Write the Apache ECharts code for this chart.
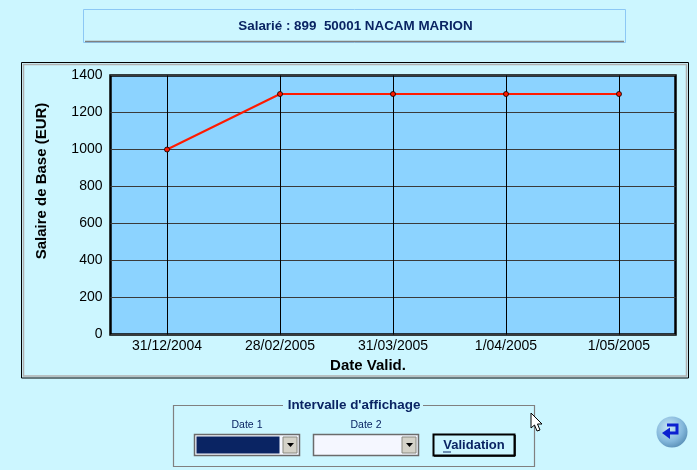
<!DOCTYPE html>
<html><head><meta charset="utf-8">
<style>html,body{margin:0;padding:0;background:#ccf6ff}#c{width:697px;height:470px}</style>
<script src="https://cdn.jsdelivr.net/npm/echarts@6/dist/echarts.min.js"></script>
</head><body><div id="c"></div>
<script>
const categories = ['31/12/2004','28/02/2005','31/03/2005','1/04/2005','1/05/2005'];
const salaire = [1000,1300,1300,1300,1300];
const yTicks = {min:0,max:1400,interval:200};
const titre = 'Salarié : 899  50001 NACAM MARION';
const navy = '#0a2463';
const font = '"Liberation Sans", Arial, sans-serif';
const rect=(x,y,w,h,fill,stroke,lw,z)=>({type:'rect',shape:{x,y,width:w,height:h},style:{fill:fill||'none',stroke:stroke||'none',lineWidth:lw||1},z:z||0,silent:true});
const line=(x1,y1,x2,y2,c,lw,z)=>({type:'line',shape:{x1,y1,x2,y2},style:{stroke:c,lineWidth:lw||1},z:z||1,silent:true});
const text=(x,y,t,size,weight,c,align,z)=>({type:'text',x,y,style:{text:t,fill:c||navy,font:`${weight||'normal'} ${size}px ${font}`,textAlign:align||'center',textVerticalAlign:'middle'},z:z||3,silent:true});
const combo=(x,w,fill)=>[
  rect(x+.5,434.5,w,21,'#f5f7ff','#6b6b6b',1.5,2),
  rect(x+2.5,436.5,w-22,17,fill,null,1,2),
  rect(x+w-16,437,14,16,'#d4d2c8','#8a8a80',1,3),
  {type:'polygon',shape:{points:[[x+w-12,443],[x+w-5,443],[x+w-8.5,447]]},style:{fill:'#000'},z:4,silent:true}
];
const graphic=[
  rect(83.5,9.5,542,33,'#ccf6ff','#8cc8f5',1,0),
  line(85,41.5,624,41.5,'#808080',1.5),
  text(355.5,26.5,titre,13.4,'bold',navy),
  rect(21.5,62.5,667,315.5,'#ccf6ff','#000',1,0),
  rect(23.5,64.5,663,311.5,'none','#b0b0b0',1.5,1),
  rect(173.5,405.5,361,61,'none','#808080',1.2,1),
  rect(283,398,140,14,'#ccf6ff',null,1,2),
  text(354,405.5,"Intervalle d'affichage",13.4,'bold',navy),
  text(247,425,'Date 1',10.5,'normal',navy),
  text(366,425,'Date 2',10.5,'normal',navy),
  ...combo(194,105,navy),
  ...combo(313,105,'#f5f7ff'),
  rect(433.5,434.5,81,21,'#ccf6ff','#000',2,2),
  line(515,435,515,456,'#000',1.5,3),
  line(434,456,515,456,'#000',1.5,3),
  text(474,445,'Validation',13,'bold',navy),
  line(443,452,451,452,navy,1,4),
  {type:'circle',shape:{cx:672,cy:432,r:15.5},style:{fill:{type:'radial',x:.4,y:.35,r:.75,colorStops:[{offset:0,color:'#c8e6f5'},{offset:.6,color:'#84b8dc'},{offset:1,color:'#4f86ae'}]}},z:2,silent:true},
  {type:'polyline',shape:{points:[[667,425],[677,425],[677,433],[666,433]]},style:{stroke:'#0b1fd0',fill:'none',lineWidth:3},z:3,silent:true},
  {type:'polygon',shape:{points:[[670,427.5],[662,433],[670,439]]},style:{fill:'#0b1fd0'},z:3,silent:true},
  {type:'polygon',shape:{points:[[531,413],[531,428],[534.5,425],[537,431],[540,430],[537.5,424],[542,424]]},style:{fill:'#fff',stroke:'#000',lineWidth:1},z:6,silent:true}
];
const chart=echarts.init(document.getElementById('c'),null,{renderer:'canvas'});
chart.setOption({
  animation:false,backgroundColor:'#ccf6ff',
  graphic:{elements:graphic},
  grid:{left:110.5,right:21.5,top:75.5,bottom:135.5,show:true,backgroundColor:'#8cd3ff',borderColor:'#000',borderWidth:2.5,z:1},
  xAxis:{type:'category',data:categories,boundaryGap:true,z:3,
    name:'Date Valid.',nameLocation:'middle',nameGap:22,nameTextStyle:{fontFamily:font,fontWeight:'bold',fontSize:15,color:'#000',padding:[0,50,0,0]},
    axisLine:{show:false},axisTick:{show:false},
    axisLabel:{color:'#000',fontFamily:font,fontSize:14,margin:5,interval:0},
    splitLine:{show:true,interval:0,alignWithLabel:true,lineStyle:{color:'#000',width:1}}},
  yAxis:{type:'value',...yTicks,z:3,
    name:'Salaire de Base (EUR)',nameLocation:'middle',nameGap:61,nameTextStyle:{fontFamily:font,fontWeight:'bold',fontSize:15,color:'#000',padding:[0,0,0,48]},
    axisLine:{show:false},axisTick:{show:false},
    axisLabel:{color:'#000',fontFamily:font,fontSize:14,margin:8,formatter:v=>String(v)},
    splitLine:{show:true,lineStyle:{color:'#3a3a3a',width:1}}},
  series:[{type:'line',data:salaire,symbol:'circle',symbolSize:5,z:5,
    lineStyle:{color:'#ff1a00',width:2},itemStyle:{color:'#ff1a00',borderColor:'#000',borderWidth:0.8}}]
});
</script></body></html>
